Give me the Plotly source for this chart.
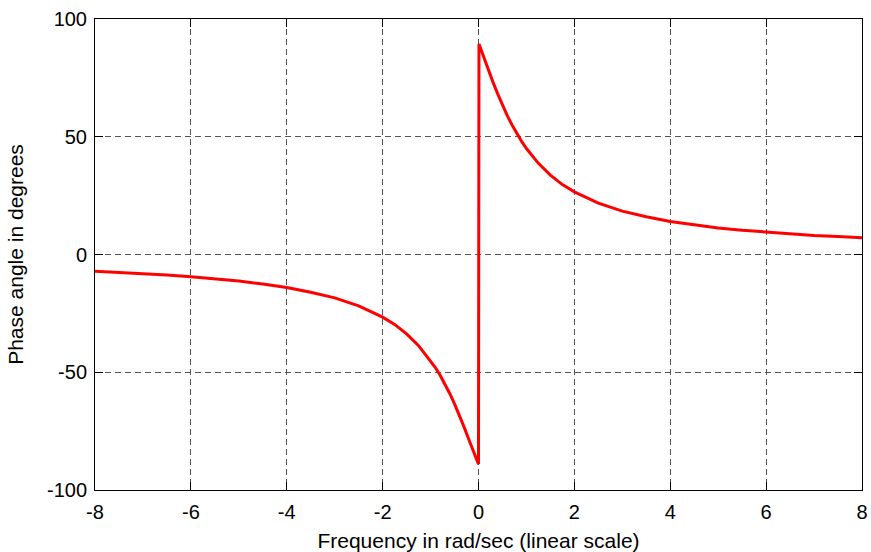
import plotly.graph_objects as go

# Frequency samples (rad/s) and phase (degrees)
freq_neg = [-8, -7.5, -7, -6.5, -6, -5.5, -5, -4.5, -4, -3.5, -3, -2.5, -2, -1.75,
            -1.5, -1.25, -1.0, -0.9, -0.8, -0.7, -0.6, -0.5, -0.4, -0.3, -0.2, -0.1, -0.05, -0.01]
phase_neg = [-7.1, -7.6, -8.1, -8.7, -9.5, -10.3, -11.3, -12.5, -14.0, -16.0, -18.4, -21.8, -26.6, -29.7,
             -33.7, -38.7, -45.0, -48.0, -51.3, -55.0, -59.0, -63.4, -68.2, -73.3, -78.7, -84.3, -87.1, -89.0]
freq_pos = [0.0, 0.01, 0.05, 0.1, 0.2, 0.3, 0.4, 0.5, 0.6, 0.7, 0.8, 0.9, 1.0, 1.25, 1.5, 1.75,
            2, 2.5, 3, 3.5, 4, 4.5, 5, 5.5, 6, 6.5, 7, 7.5, 8]
phase_pos = [-89.0, 89.4, 87.1, 84.3, 78.7, 73.3, 68.2, 63.4, 59.0, 55.0, 51.3, 48.0, 45.0, 38.7, 33.7, 29.7,
             26.6, 21.8, 18.4, 16.0, 14.0, 12.5, 11.3, 10.3, 9.5, 8.7, 8.1, 7.6, 7.1]

x_ticks = [-8, -6, -4, -2, 0, 2, 4, 6, 8]
y_ticks = [-100, -50, 0, 50, 100]

freq = freq_neg + freq_pos
phase = phase_neg + phase_pos

FONT = "Liberation Sans, Arial, sans-serif"

fig = go.Figure()
fig.add_trace(go.Scatter(x=freq, y=phase, mode="lines",
                         line=dict(color="#ff0000", width=3), showlegend=False))

axis_common = dict(
    showline=True, linecolor="black", linewidth=1, mirror="ticks",
    ticks="inside", ticklen=8, tickcolor="black", tickwidth=1,
    showgrid=True, gridcolor="#555555", gridwidth=1, griddash="6px,4px",
    zeroline=False, automargin=False,
    tickfont=dict(family=FONT, size=20, color="black"),
)

fig.update_xaxes(range=[-8, 8], tickvals=x_ticks, ticktext=[str(v) for v in x_ticks],
                 ticklabelstandoff=4,
                 title=dict(text="Frequency in rad/sec (linear scale)",
                            font=dict(family=FONT, size=21, color="black"),
                            standoff=11),
                 **axis_common)
fig.update_yaxes(range=[-100, 100], tickvals=y_ticks, ticktext=[str(v) for v in y_ticks],
                 ticklabelstandoff=3,
                 title=dict(text="Phase angle in degrees",
                            font=dict(family=FONT, size=21, color="black"),
                            standoff=17),
                 **axis_common)

fig.update_layout(
    width=871, height=552,
    margin=dict(l=95, r=9, t=19, b=62),
    plot_bgcolor="white", paper_bgcolor="white",
)

fig.write_html("out.html", config={"displayModeBar": False},
               post_script="document.body.style.margin='0';document.body.style.overflow='hidden';")
